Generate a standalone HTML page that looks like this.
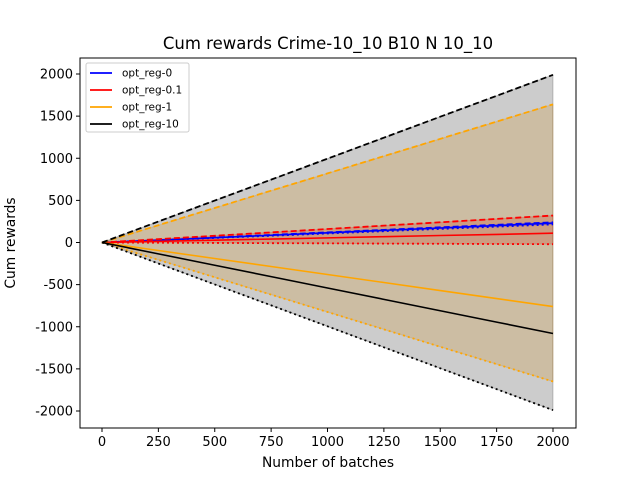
<!DOCTYPE html>
<html><head><meta charset="utf-8"><style>
body{margin:0;background:#fff}
svg{font-family:"DejaVu Sans","Liberation Sans",sans-serif}
</style></head><body>
<svg id="chart" width="640" height="480"></svg>
<script>
const batches=[0,250,500,750,1000,1250,1500,1750,2000];
const names=["opt_reg-0","opt_reg-0.1","opt_reg-1","opt_reg-10"];
const colors=["#0000ff","#ff0000","#ffa500","#000000"];
const meanVals=[[0,28,57,86,115,144,172,201,230],[0,14,28,41,55,69,83,96,110],[0,-95,-190,-285,-380,-475,-570,-665,-760],[0,-135,-270,-405,-540,-675,-810,-945,-1080]];
const upperVals=[[0,30,60,90,120,150,180,210,240],[0,40,80,120,160,200,240,280,320],[0,205,410,615,820,1025,1230,1435,1640],[0,249,498,746,995,1244,1493,1741,1990]];
const lowerVals=[[0,27,54,80,107,134,161,188,215],[0,-3,-5,-8,-10,-13,-15,-18,-20],[0,-206,-413,-619,-825,-1031,-1238,-1444,-1650],[0,-249,-498,-746,-995,-1244,-1493,-1741,-1990]];
const xTicks=[0,250,500,750,1000,1250,1500,1750,2000];
const yTicks=[-2000,-1500,-1000,-500,0,500,1000,1500,2000];
const L=80,R=576,T=58,B=428;
const X=v=>102+v*(451/2000);
const Y=v=>242.5-v*(337/4000);
const svg=document.getElementById('chart');
const NS="http://www.w3.org/2000/svg";
function mk(tag,attrs,parent){const e=document.createElementNS(NS,tag);for(const k in attrs)e.setAttribute(k,attrs[k]);(parent||svg).appendChild(e);return e;}
const pts=a=>a.map((v,i)=>X(batches[i])+","+Y(v)).join(" ");
for(let s=0;s<names.length;s++){
  const poly=batches.map((b,i)=>X(b)+","+Y(upperVals[s][i])).concat(batches.map((b,i)=>X(b)+","+Y(lowerVals[s][i])).reverse()).join(" ");
  const p=mk('polygon',{points:poly,fill:colors[s],'fill-opacity':0.2,stroke:colors[s],'stroke-opacity':0.2});
  
  
}
for(let s=0;s<names.length;s++){
  const u=mk('polyline',{points:pts(upperVals[s]),fill:'none',stroke:colors[s],'stroke-width':1.8,'stroke-dasharray':'6,3'});
  
  
  const l=mk('polyline',{points:pts(lowerVals[s]),fill:'none',stroke:colors[s],'stroke-width':1.8,'stroke-dasharray':'2,3'});
  
  
  const m=mk('polyline',{points:pts(meanVals[s]),fill:'none',stroke:colors[s],'stroke-width':1.6});
  
  
}
const fr=mk('rect',{x:L,y:T,width:R-L,height:B-T,fill:'none',stroke:'#000','stroke-width':1});


xTicks.forEach(t=>{mk('line',{x1:X(t),x2:X(t),y1:B,y2:B+4,stroke:'#000'});
  const tx=mk('text',{x:X(t),y:B+18,'font-size':13,'text-anchor':'middle'});tx.textContent=t;
  
  });
yTicks.forEach(t=>{mk('line',{x1:L-4,x2:L,y1:Y(t),y2:Y(t),stroke:'#000'});
  const tx=mk('text',{x:L-7,y:Y(t)+4.5,'font-size':13,'text-anchor':'end'});tx.textContent=t;
  
  });
const ti=mk('text',{x:328,y:49,'font-size':16.5,'text-anchor':'middle'});ti.textContent="Cum rewards Crime-10_10 B10 N 10_10";


const xl=mk('text',{x:328,y:467,'font-size':13.8,'text-anchor':'middle'});xl.textContent="Number of batches";


const yl=mk('text',{x:0,y:0,'font-size':13.8,'text-anchor':'middle',transform:'translate(15,243) rotate(-90)'});yl.textContent="Cum rewards";


const lg=mk('g',{});


mk('rect',{x:86,y:63,width:103,height:69,rx:2,fill:'#fff','fill-opacity':0.8,stroke:'#ccc'},lg);
names.forEach((n,i)=>{const y=73+i*17;
  mk('line',{x1:90,x2:112,y1:y,y2:y,stroke:colors[i],'stroke-width':1.8},lg);
  const t=mk('text',{x:122,y:y+3.5,'font-size':10.5},lg);t.textContent=n;
  
  });
</script>
</body></html>
